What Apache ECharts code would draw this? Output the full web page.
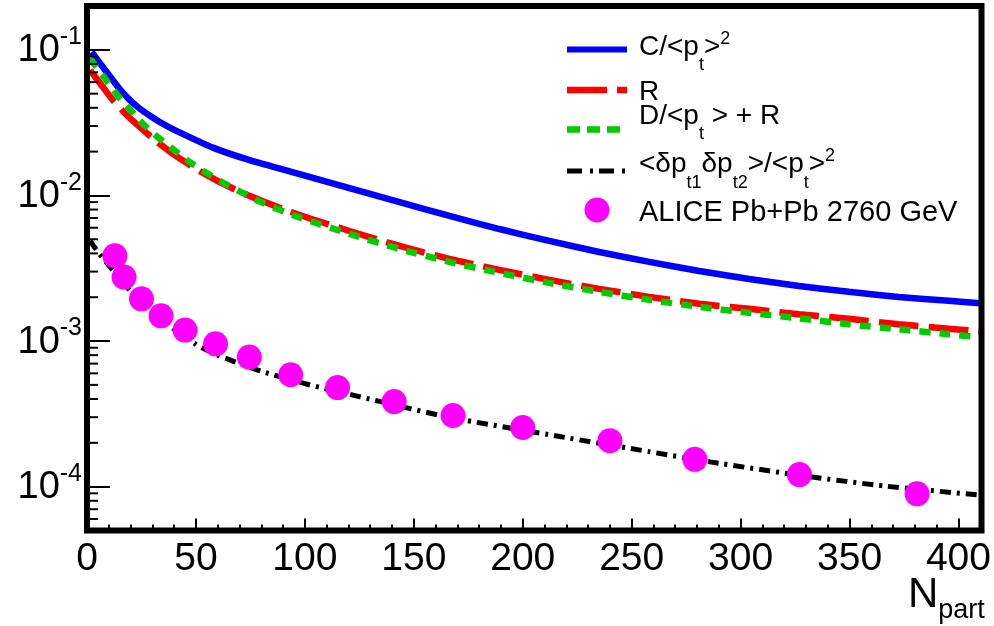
<!DOCTYPE html>
<html><head><meta charset="utf-8">
<script src="https://cdn.jsdelivr.net/npm/echarts@6/dist/echarts.min.js"></script>
<style>html,body{margin:0;padding:0;background:#fff}#c{width:994px;height:626px}</style>
</head><body><div id="c"></div><script>
const FONT = '"Liberation Sans", Arial, Helvetica, sans-serif';

// ---- data ----
const seriesNames = ['C/<pt>^2', 'R', 'D/<pt> + R', '<δpt1δpt2>/<pt>^2', 'ALICE Pb+Pb 2760 GeV'];
const blueN = [2.15, 5.96, 10.5, 15.1, 19.7, 24.3, 28.9, 34.4, 40.3, 57.8, 74.7, 97.6, 120.5, 143.5, 166.4, 189.3, 212.2, 235.1, 258.1, 281.0, 303.9, 326.8, 349.7, 372.6, 395.6, 410];
const blueV = [0.0966, 0.0808, 0.0658, 0.0536, 0.0451, 0.0394, 0.0353, 0.0313, 0.0281, 0.0213, 0.01748, 0.01402, 0.01124, 0.00901, 0.00723, 0.00588, 0.00487, 0.00409, 0.00350, 0.00303, 0.00267, 0.00239, 0.00218, 0.00201, 0.00189, 0.00182];
const redN = [1.4, 6.0, 11.9, 17.4, 24.3, 31.2, 40.3, 51.8, 65.5, 79.3, 97.6, 120.5, 143.5, 166.4, 189.3, 212.2, 235.1, 258.1, 281.0, 303.9, 326.8, 349.7, 372.6, 395.6, 410];
const redV = [0.0724, 0.0589, 0.0451, 0.0367, 0.02943, 0.02397, 0.01891, 0.01469, 0.01142, 0.00930, 0.00734, 0.00570, 0.00450, 0.003665, 0.003082, 0.002631, 0.002283, 0.002011, 0.001802, 0.001665, 0.001527, 0.001422, 0.001304, 0.001215, 0.001167];
const greenN = [1.4, 2.6, 8.25, 13.6, 19.7, 25.8, 32.7, 40.0, 47.2, 54.9, 62.8, 71.1, 79.3, 96.3, 120.5, 143.5, 166.4, 189.3, 212.2, 235.1, 258.1, 281.0, 303.9, 326.8, 349.7, 372.6, 395.6, 410];
const greenV = [0.0874, 0.0825, 0.0635, 0.04955, 0.03892, 0.03086, 0.02501, 0.02047, 0.01694, 0.01424, 0.01216, 0.01047, 0.00908, 0.00717, 0.00544, 0.00429, 0.003494, 0.002938, 0.002509, 0.002177, 0.001919, 0.001718, 0.001563, 0.001433, 0.001304, 0.001205, 0.001113, 0.001062];
const blackN = [1.5, 3, 10.5, 27, 50, 60, 80, 102, 125, 166, 217, 258, 286, 330, 367, 410];
const blackV = [0.0049, 0.0045, 0.00324, 0.00169, 0.00095, 0.00080, 0.00062, 0.000501, 0.000415, 0.0003, 0.000221, 0.000174, 0.000148, 0.000118, 0.0001007, 0.0000875];
const aliceN = [12.8, 17, 25, 34, 45, 59, 74.5, 93.5, 115, 141, 168, 200, 240, 279, 327, 381];
const aliceV = [0.00385, 0.00275, 0.00195, 0.00149, 0.00119, 0.000957, 0.000776, 0.000587, 0.000479, 0.000384, 0.000308, 0.000255, 0.000207, 0.000154, 0.000121, 0.0000893];
const xMin = 0, xMax = 410, xMajor = 50, xMinor = 10;
const yMin = 5e-5, yMax = 0.2;
const yMinorTicks = [6e-5, 7e-5, 8e-5, 9e-5,
  2e-4, 3e-4, 4e-4, 5e-4, 6e-4, 7e-4, 8e-4, 9e-4,
  2e-3, 3e-3, 4e-3, 5e-3, 6e-3, 7e-3, 8e-3, 9e-3,
  2e-2, 3e-2, 4e-2, 5e-2, 6e-2, 7e-2, 8e-2, 9e-2];

const zip = (a, b) => a.map((v, i) => [v, b[i]]);

// ---- text helpers (legend / axis title) ----
const mctx = document.createElement('canvas').getContext('2d');
function tw(t, s) { mctx.font = s + 'px ' + FONT; return mctx.measureText(t).width; }
function textEl(t, x, base, s) {
  return { type: 'text', z: 110, x: x, y: base - 0.31 * s,
    style: { text: t, font: s + 'px ' + FONT, fill: '#000', align: 'left', verticalAlign: 'middle', textAlign: 'left', textVerticalAlign: 'middle' } };
}
function richRow(x, base, parts, ms, ss, subOff, supOff) {
  const els = []; let cx = x;
  parts.forEach(([t, k]) => {
    const s = k === 'm' ? ms : ss;
    const b = k === 'm' ? base : (k === 'b' ? base + subOff : base - supOff);
    els.push(textEl(t, cx, b, s)); cx += tw(t, s);
  });
  return els;
}

const LX0 = 567, LX1 = 627, TX = 639;
const graphics = [];
// frame
graphics.push({ type: 'rect', z: 100, silent: true, shape: { x: 87, y: 6, width: 894.5, height: 524.5 },
  style: { fill: 'none', stroke: '#000', lineWidth: 6 } });
// legend samples
graphics.push({ type: 'line', z: 105, shape: { x1: LX0, y1: 49.5, x2: LX1, y2: 49.5 }, style: { stroke: '#0000ff', lineWidth: 6 } });
graphics.push({ type: 'line', z: 105, shape: { x1: LX0, y1: 90, x2: LX1, y2: 90 }, style: { stroke: '#ff0000', lineWidth: 6.5, lineDash: [40, 10] } });
graphics.push({ type: 'line', z: 105, shape: { x1: LX0, y1: 129.5, x2: LX1, y2: 129.5 }, style: { stroke: '#00cc00', lineWidth: 6.5, lineDash: [13, 7] } });
graphics.push({ type: 'line', z: 105, shape: { x1: LX0, y1: 171, x2: LX1, y2: 171 }, style: { stroke: '#000', lineWidth: 5, lineDash: [15, 8, 3, 6] } });
graphics.push({ type: 'circle', z: 105, shape: { cx: 597, cy: 210, r: 12.5 }, style: { fill: '#ff00ff' } });
// legend texts
const MS = 28, SS = 18;
graphics.push(...richRow(TX, 56, [['C/<p', 'm'], ['t', 'b'], ['>', 'm'], ['2', 'p']], MS, SS, 15, 11));
graphics.push(...richRow(TX, 101, [['R', 'm']], MS, SS, 15, 11));
graphics.push(...richRow(TX, 124.5, [['D/<p', 'm'], ['t', 'b'], [' > + R', 'm']], MS, SS, 15, 11));
graphics.push(...richRow(TX, 173, [['<δp', 'm'], ['t1', 'b'], ['δp', 'm'], ['t2', 'b'], ['>/<p', 'm'], ['t', 'b'], ['>', 'm'], ['2', 'p']], MS, SS, 16, 11));
graphics.push(...richRow(TX, 222, [['ALICE Pb+Pb 2760 GeV', 'm']], 29, SS, 15, 11));
// axis title N_part
graphics.push(...richRow(908, 608, [['N', 'm'], ['part', 'b']], 42, 27, 11, 0));

const chart = echarts.init(document.getElementById('c'), null, { renderer: 'canvas' });
const lineBase = { type: 'line', showSymbol: false, symbol: 'none', smooth: 0.2, z: 3, silent: true };
chart.setOption({
  animation: false,
  backgroundColor: '#fff',
  grid: { left: 87, right: 12.5, top: 6, bottom: 95.5, show: false },
  xAxis: [
    { type: 'value', min: xMin, max: xMax, interval: xMajor,
      axisLine: { show: false }, splitLine: { show: false },
      axisTick: { show: true, inside: true, length: 12, lineStyle: { color: '#000', width: 2 } },
      axisLabel: { margin: 9, color: '#000', fontFamily: FONT, fontSize: 39, lineHeight: 40,
        formatter: v => (Math.abs(v % xMajor) < 1e-9 && v <= 400) ? String(v) : '' } },
    { type: 'value', min: xMin, max: xMax, interval: xMinor, position: 'bottom',
      axisLine: { show: false }, splitLine: { show: false }, axisLabel: { show: false },
      axisTick: { show: true, inside: true, length: 6, lineStyle: { color: '#000', width: 2 } } }
  ],
  yAxis: { type: 'log', logBase: 10, min: yMin, max: yMax,
    axisLine: { show: false }, splitLine: { show: false },
    axisTick: { show: true, inside: true, length: 23, lineStyle: { color: '#000', width: 2 } },
    axisLabel: { margin: 5, color: '#000',
      formatter: v => { const l = Math.log10(v); const e = Math.round(l); return Math.abs(l - e) < 1e-6 ? '{b|10}{s|' + e + '}' : ''; },
      rich: {
        b: { fontFamily: FONT, fontSize: 38, lineHeight: 40, padding: [16, 0, 0, 0], verticalAlign: 'bottom', color: '#000' },
        s: { fontFamily: FONT, fontSize: 25, lineHeight: 25, padding: [0, 0, 20, 0], verticalAlign: 'bottom', color: '#000' }
      } } },
  graphic: { elements: graphics },
  series: [
    Object.assign({}, lineBase, { name: seriesNames[0], data: zip(blueN, blueV), lineStyle: { color: '#0000ff', width: 6.5 } }),
    Object.assign({}, lineBase, { name: seriesNames[1], data: zip(redN, redV), lineStyle: { color: '#ff0000', width: 6.5, type: [40, 10] } }),
    Object.assign({}, lineBase, { name: seriesNames[2], data: zip(greenN, greenV), lineStyle: { color: '#00cc00', width: 6.5, type: [11, 9] } }),
    Object.assign({}, lineBase, { name: seriesNames[3], data: zip(blackN, blackV), lineStyle: { color: '#000', width: 5, type: [11, 6, 3, 6] } }),
    { name: seriesNames[4], type: 'scatter', symbol: 'circle', symbolSize: 25, z: 5, silent: true,
      itemStyle: { color: '#ff00ff', opacity: 1 }, data: zip(aliceN, aliceV) },
    { type: 'custom', silent: true, z: 4, clip: false, data: yMinorTicks.map(v => [0, v]),
      renderItem: (params, api) => { const p = api.coord([0, api.value(1)]);
        return { type: 'line', shape: { x1: p[0], y1: p[1], x2: p[0] + 11, y2: p[1] }, style: { stroke: '#000', lineWidth: 2 } }; } }
  ]
});
</script></body></html>
